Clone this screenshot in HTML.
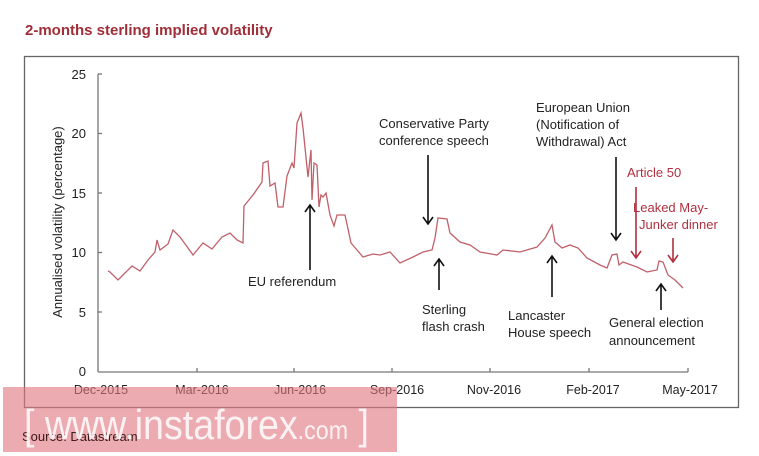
<!DOCTYPE html>
<html><head><meta charset="utf-8"><style>
html,body{margin:0;padding:0;background:#fff;}
svg{display:block;font-family:"Liberation Sans",sans-serif;}
</style></head><body>
<svg width="759" height="456" viewBox="0 0 759 456" xmlns="http://www.w3.org/2000/svg">
<text x="25" y="35" font-size="15" font-weight="bold" fill="#a02e38">2-months sterling implied volatility</text>
<rect x="24.5" y="56.5" width="714" height="351" fill="none" stroke="#666" stroke-width="1.3"/>
<g stroke="#777" stroke-width="1.3" fill="none">
<line x1="98" y1="74" x2="98" y2="372"/>
<line x1="98" y1="372" x2="688" y2="372"/>
<line x1="98" y1="74" x2="102" y2="74"/><line x1="98" y1="133.5" x2="102" y2="133.5"/><line x1="98" y1="193" x2="102" y2="193"/><line x1="98" y1="252.5" x2="102" y2="252.5"/><line x1="98" y1="312" x2="102" y2="312"/>
<line x1="197" y1="372" x2="197" y2="368"/><line x1="294" y1="372" x2="294" y2="368"/><line x1="392" y1="372" x2="392" y2="368"/><line x1="490" y1="372" x2="490" y2="368"/><line x1="589" y1="372" x2="589" y2="368"/><line x1="688" y1="372" x2="688" y2="368"/>
</g>
<g font-size="13" fill="#222" text-anchor="end">
<text x="86" y="79">25</text><text x="86" y="138">20</text><text x="86" y="198">15</text><text x="86" y="257">10</text><text x="86" y="317">5</text><text x="86" y="376">0</text>
</g>
<g font-size="12.5" fill="#222" text-anchor="middle">
<text x="101" y="394">Dec-2015</text><text x="202" y="394">Mar-2016</text><text x="300" y="394">Jun-2016</text><text x="397" y="394">Sep-2016</text><text x="494" y="394">Nov-2016</text><text x="593" y="394">Feb-2017</text><text x="690" y="394">May-2017</text>
</g>
<text transform="translate(62,222) rotate(-90)" font-size="13" fill="#222" text-anchor="middle">Annualised volatility  (percentage)</text>
<polyline fill="none" stroke="#c0606a" stroke-width="1.3" points="108,271 110,272 118,280 123,275 132,266 140,271 148,260 155,252 157,240 160,250 168,244 173,230 180,237 188,248 193,255 203,243 212,249 222,237 230,233 237,240 243,243 244,206 253,195 262,182 263,163 268,161 270,186 275,183 278,207 283,207 287,176 292,163 294,168 297,123 301,113 303,128 308,177 311,150 312,200 314,163 317,165 319,207 321,195 323,197 326,193 330,215 334,226 337,215 345,215 351,243 357,250 363,257 373,254 380,255 390,252 400,263 413,257 423,252 432,250 435,238 438,218 447,219 450,233 460,242 470,245 480,252 497,255 503,250 520,252 537,247 545,238 552,225 555,242 562,248 570,245 578,248 587,258 600,265 607,268 612,255 617,254 619,265 623,262 637,267 647,272 657,270 659,261 663,262 668,275 675,280 683,288"/>
<g stroke="#111" stroke-width="1.6" fill="none">
<path d="M310,270 V205 M305,212 L310,205 L315,212"/>
<path d="M428,155 V224 M423,217 L428,224 L433,217"/>
<path d="M439,290 V259 M434,266 L439,259 L444,266"/>
<path d="M552,297 V256 M547,263 L552,256 L557,263"/>
<path d="M616,157 V240 M611,233 L616,240 L621,233"/>
<path d="M661,310 V284 M656,291 L661,284 L666,291"/>
</g>
<g stroke="#b03040" stroke-width="1.6" fill="none">
<path d="M636,187 V258 M631,251 L636,258 L641,251"/>
<path d="M673,238 V262 M668,255 L673,262 L678,255"/>
</g>
<g font-size="13" fill="#222">
<text x="248" y="286">EU referendum</text>
<text x="379" y="128">Conservative Party</text><text x="379" y="145">conference speech</text>
<text x="422" y="314">Sterling</text><text x="422" y="331">flash crash</text>
<text x="508" y="320">Lancaster</text><text x="508" y="337">House speech</text>
<text x="536" y="112">European Union</text><text x="536" y="129">(Notification of</text><text x="536" y="146">Withdrawal) Act</text>
<text x="609" y="327">General election</text><text x="609" y="345">announcement</text>
</g>
<g font-size="13" fill="#b03040">
<text x="627" y="177">Article 50</text>
<text x="633" y="212">Leaked May-</text><text x="639" y="229">Junker dinner</text>
</g>
<rect x="3" y="387" width="394" height="65" fill="#e07880" opacity="0.62"/>
<text x="22" y="441" font-size="13" fill="#3a1a1a">Source: Datastream</text>
<text x="24" y="439" font-size="42" fill="#fff" opacity="0.85" textLength="345" lengthAdjust="spacingAndGlyphs">[  www.instaforex<tspan font-size="26">.com</tspan> ]</text>
</svg>
</body></html>
